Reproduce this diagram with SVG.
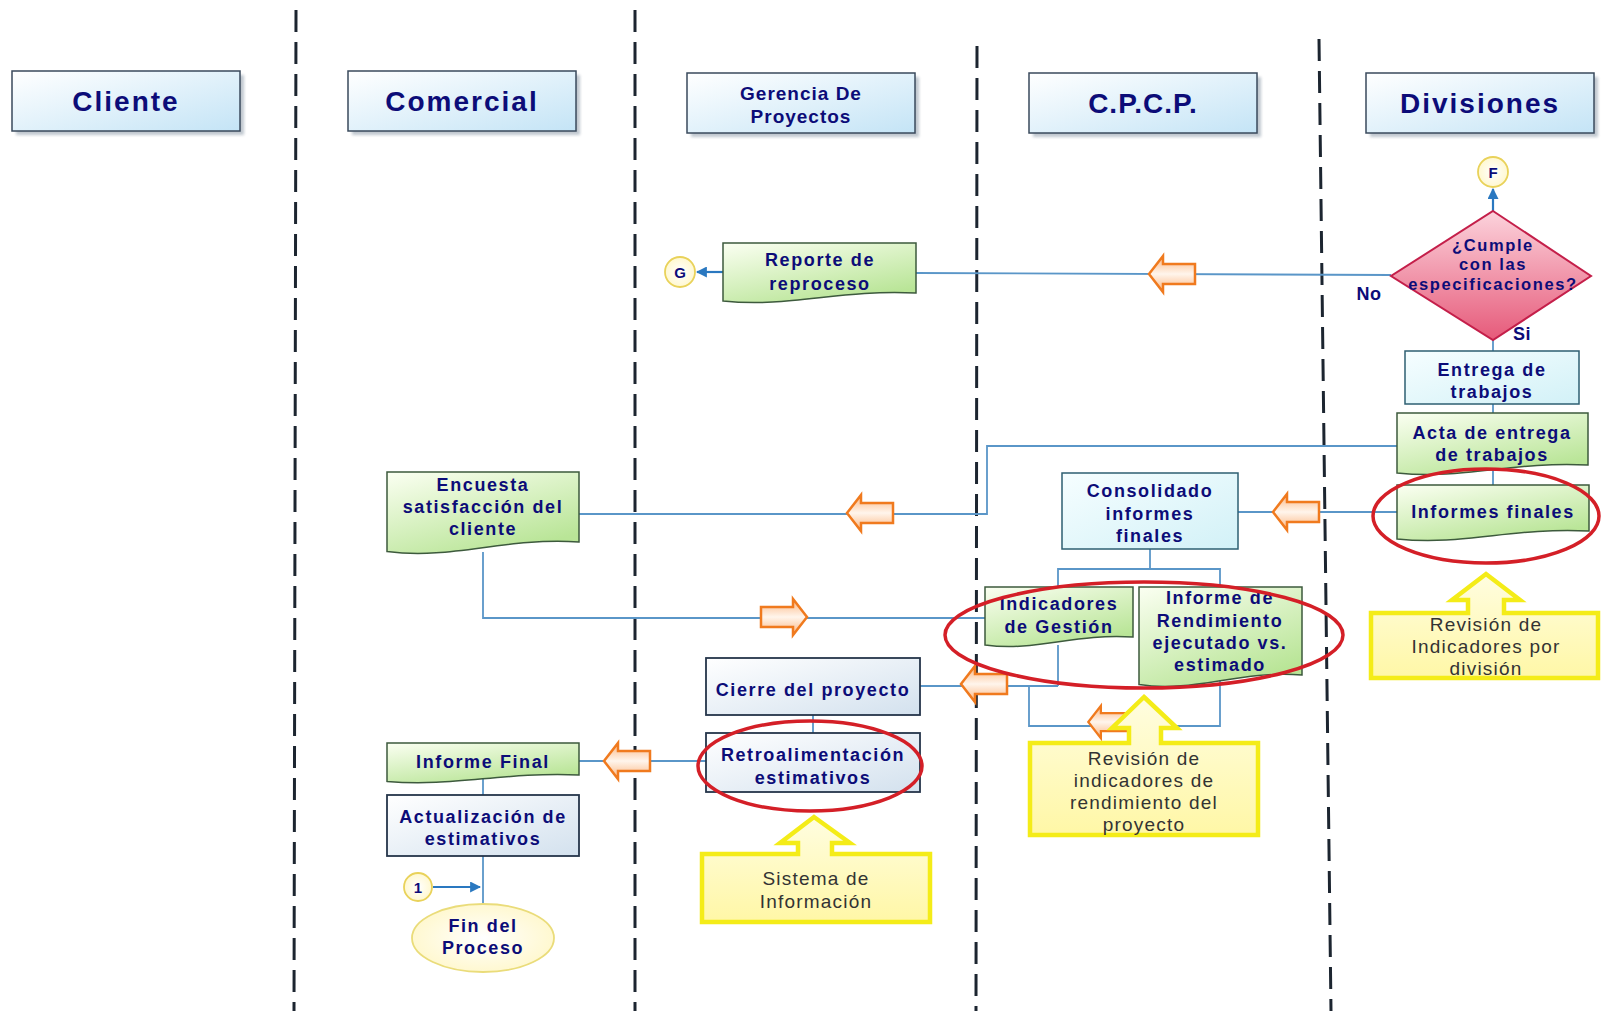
<svg xmlns="http://www.w3.org/2000/svg" width="1601" height="1011" viewBox="0 0 1601 1011">
<style>
  .lane{stroke:#1c2530;stroke-width:3;stroke-dasharray:22 10;fill:none}
  .hdr{fill:url(#hdrG);stroke:#3a4a5c;stroke-width:1.5}
  .shd{fill:#8c9aa8;opacity:.55;filter:url(#blur)}
  .ht{font-family:"Liberation Sans",Arial,sans-serif;font-weight:bold;fill:#0c0c78;font-size:28px;letter-spacing:2px;text-anchor:middle}
  .t{font-family:"Liberation Sans",Arial,sans-serif;font-weight:bold;fill:#0c0c78;font-size:18px;letter-spacing:1.6px;text-anchor:middle}
  .ct{font-family:"Liberation Sans",Arial,sans-serif;fill:#333;font-size:19px;letter-spacing:1.2px;text-anchor:middle}
  .doc{fill:url(#greenG);stroke:#3d5a3d;stroke-width:1.5}
  .cyan{fill:url(#cyanG);stroke:#2e5f72;stroke-width:1.5}
  .box{fill:url(#boxG);stroke:#25354a;stroke-width:1.8}
  .con{stroke:#5a96c8;stroke-width:1.8;fill:none}
  .conA{stroke:#2a78c0;stroke-width:2.2;fill:none;marker-end:url(#ah)}
  .circ{fill:url(#circG);stroke:#e9d25a;stroke-width:1.8}
  .oar{fill:url(#orG);stroke:#f07a1e;stroke-width:2.5;stroke-linejoin:miter}
  .red{fill:none;stroke:#d41f27;stroke-width:3.5}
  .call{fill:url(#yelG);stroke:#f4ec18;stroke-width:4.5;stroke-linejoin:miter}
  .callS{fill:#c8c8b0;opacity:.35;filter:url(#blur2)}
</style>
<defs>
  <linearGradient id="hdrG" x1="0" y1="0" x2="1" y2="1"><stop offset="0" stop-color="#ffffff"/><stop offset="1" stop-color="#c4e4f6"/></linearGradient>
  <linearGradient id="cyanG" x1="0" y1="0" x2="1" y2="1"><stop offset="0" stop-color="#f6feff"/><stop offset="1" stop-color="#d2f1f7"/></linearGradient>
  <linearGradient id="boxG" x1="0" y1="0" x2="1" y2="1"><stop offset="0" stop-color="#ffffff"/><stop offset="1" stop-color="#d3e1ee"/></linearGradient>
  <linearGradient id="greenG" x1="0" y1="0" x2="0.6" y2="1"><stop offset="0" stop-color="#fbfff2"/><stop offset="1" stop-color="#b9e597"/></linearGradient>
  <linearGradient id="pinkG" x1="0" y1="0" x2="0" y2="1"><stop offset="0" stop-color="#fcd3dc"/><stop offset="1" stop-color="#e65a7a"/></linearGradient>
  <linearGradient id="orG" x1="0" y1="0" x2="0" y2="1"><stop offset="0" stop-color="#fbb47e"/><stop offset="0.5" stop-color="#fff5ec"/><stop offset="1" stop-color="#fbb47e"/></linearGradient>
  <linearGradient id="yelG" x1="0" y1="0" x2="0" y2="1"><stop offset="0" stop-color="#fffde0"/><stop offset="1" stop-color="#fff7a6"/></linearGradient>
  <radialGradient id="circG"><stop offset="0" stop-color="#ffffff"/><stop offset="1" stop-color="#fff8d0"/></radialGradient>
  <filter id="blur" x="-10%" y="-10%" width="120%" height="130%"><feGaussianBlur stdDeviation="1.5"/></filter>
  <filter id="blur2" x="-10%" y="-10%" width="120%" height="130%"><feGaussianBlur stdDeviation="4"/></filter>
  <marker id="ah" viewBox="0 0 10 10" refX="9" refY="5" markerWidth="5" markerHeight="5" orient="auto"><path d="M0,0 L10,5 L0,10 z" fill="#2a78c0"/></marker>
  <path id="oarrow" d="M-23,0 L-9,-18 L-9,-10 L23,-10 L23,10 L-9,10 L-9,18 Z"/>
</defs>
<rect width="1601" height="1011" fill="#ffffff"/>

<g id="lanes">
  <line class="lane" x1="296" y1="10" x2="294" y2="1011"/>
  <line class="lane" x1="635" y1="10" x2="635" y2="1011"/>
  <line class="lane" x1="977" y1="46" x2="976" y2="1011"/>
  <line class="lane" x1="1319" y1="39" x2="1331" y2="1011"/>
</g>

<g id="headers">
  <g id="h-cliente"><rect class="shd" x="16" y="75" width="228" height="60"/><rect class="hdr" x="12" y="71" width="228" height="60"/><text class="ht" x="126" y="111">Cliente</text></g>
  <g id="h-comercial"><rect class="shd" x="352" y="75" width="228" height="60"/><rect class="hdr" x="348" y="71" width="228" height="60"/><text class="ht" x="462" y="111">Comercial</text></g>
  <g id="h-gerencia"><rect class="shd" x="691" y="77" width="228" height="60"/><rect class="hdr" x="687" y="73" width="228" height="60"/><text class="t" x="801" y="100" style="font-size:19px;letter-spacing:1px">Gerencia De</text><text class="t" x="801" y="123" style="font-size:19px;letter-spacing:1px">Proyectos</text></g>
  <g id="h-cpcp"><rect class="shd" x="1033" y="77" width="228" height="60"/><rect class="hdr" x="1029" y="73" width="228" height="60"/><text class="ht" x="1143" y="113" style="letter-spacing:1px">C.P.C.P.</text></g>
  <g id="h-divisiones"><rect class="shd" x="1370" y="77" width="228" height="60"/><rect class="hdr" x="1366" y="73" width="228" height="60"/><text class="ht" x="1480" y="113">Divisiones</text></g>
</g>

<g id="connectors">
  <line class="conA" x1="1493" y1="211" x2="1493" y2="189"/>
  <line class="con" x1="1391" y1="275" x2="916" y2="273"/>
  <line class="conA" x1="723" y1="272" x2="697" y2="272"/>
  <line class="con" x1="1493" y1="340" x2="1493" y2="351"/>
  <line class="con" x1="1493" y1="404" x2="1493" y2="413"/>
  <line class="con" x1="1493" y1="470" x2="1493" y2="485"/>
  <polyline class="con" points="1397,446 987,446 987,514 579,514"/>
  <line class="con" x1="1397" y1="512" x2="1238" y2="512"/>
  <line class="con" x1="1150" y1="549" x2="1150" y2="569"/>
  <polyline class="con" points="1058,587 1058,569 1220,569 1220,587"/>
  <polyline class="con" points="483,552 483,618 985,618"/>
  <line class="con" x1="920" y1="686" x2="1058" y2="686"/>
  <line class="con" x1="1058" y1="645" x2="1058" y2="686"/>
  <polyline class="con" points="1029,686 1029,726 1220,726 1220,680"/>
  <line class="con" x1="813" y1="715" x2="813" y2="733"/>
  <line class="con" x1="706" y1="761" x2="579" y2="761"/>
  <line class="con" x1="483" y1="779" x2="483" y2="795"/>
  <line class="con" x1="483" y1="856" x2="483" y2="905"/>
  <line class="conA" x1="433" y1="887" x2="480" y2="887"/>
  <g id="flow-arrows">
    <use href="#oarrow" class="oar" transform="translate(1172,274)"/>
    <use href="#oarrow" class="oar" transform="translate(870,513)"/>
    <use href="#oarrow" class="oar" transform="translate(1296,512)"/>
    <use href="#oarrow" class="oar" transform="translate(784,617) scale(-1,1)"/>
    <use href="#oarrow" class="oar" transform="translate(984,684)"/>
    <use href="#oarrow" class="oar" transform="translate(1109,722) scale(0.9)"/>
    <use href="#oarrow" class="oar" transform="translate(627,761)"/>
  </g>
  <text class="t" x="1369" y="300" style="letter-spacing:0.5px">No</text>
  <text class="t" x="1522" y="340" style="letter-spacing:0.5px">Si</text>
</g>

<g id="node-F"><circle class="circ" cx="1493" cy="172" r="15"/><text class="t" x="1493" y="178" style="font-size:15px;letter-spacing:0">F</text></g>
<g id="node-decision"><polygon points="1493,211 1591,276 1493,340 1391,276" fill="url(#pinkG)" stroke="#c41f4a" stroke-width="2"/>
  <text class="t" x="1493" y="251" style="font-size:16.5px;letter-spacing:1.6px">¿Cumple</text>
  <text class="t" x="1493" y="270" style="font-size:16.5px;letter-spacing:1.6px">con las</text>
  <text class="t" x="1493" y="290" style="font-size:16.5px;letter-spacing:1.6px">especificaciones?</text></g>
<g id="node-G"><circle class="circ" cx="680" cy="272" r="15"/><text class="t" x="680" y="278" style="font-size:15px;letter-spacing:0">G</text></g>
<g id="node-reporte"><path class="doc" d="M723,243 H916 V293 C838.8,289 790.6,308 723,301 Z"/><text class="t" x="820" y="266">Reporte de</text><text class="t" x="820" y="290">reproceso</text></g>
<g id="node-entrega"><rect class="cyan" x="1405" y="351" width="174" height="53"/><text class="t" x="1492" y="376">Entrega de</text><text class="t" x="1492" y="398">trabajos</text></g>
<g id="node-acta"><path class="doc" d="M1397,413 H1588 V465 C1511.6,461 1463.9,480 1397,473 Z"/><text class="t" x="1492" y="439">Acta de entrega</text><text class="t" x="1492" y="461">de trabajos</text></g>
<g id="node-informes-finales"><path class="doc" d="M1397,485 H1589 V531 C1512.2,527 1464.2,546 1397,539 Z"/><text class="t" x="1493" y="518">Informes finales</text></g>
<g id="node-consolidado"><rect class="cyan" x="1062" y="473" width="176" height="76"/><text class="t" x="1150" y="497">Consolidado</text><text class="t" x="1150" y="520">informes</text><text class="t" x="1150" y="542">finales</text></g>
<g id="node-indicadores"><path class="doc" d="M985,587 H1133 V637 C1073.8,633 1036.8,652 985,645 Z"/><text class="t" x="1059" y="610">Indicadores</text><text class="t" x="1059" y="633">de Gestión</text></g>
<g id="node-rendimiento"><path class="doc" d="M1139,587 H1302 V675 C1236.8,670.2 1196.1,693 1139,684.6 Z"/><text class="t" x="1220" y="604">Informe de</text><text class="t" x="1220" y="627">Rendimiento</text><text class="t" x="1220" y="649">ejecutado vs.</text><text class="t" x="1220" y="671">estimado</text></g>
<g id="node-encuesta"><path class="doc" d="M387,472 H579 V542 C502.2,537.2 454.2,560 387,551.6 Z"/><text class="t" x="483" y="491">Encuesta</text><text class="t" x="483" y="513">satisfacción del</text><text class="t" x="483" y="535">cliente</text></g>
<g id="node-cierre"><rect class="box" x="706" y="658" width="214" height="57"/><text class="t" x="813" y="696">Cierre del proyecto</text></g>
<g id="node-retro"><rect class="box" x="706" y="733" width="214" height="59"/><text class="t" x="813" y="761">Retroalimentación</text><text class="t" x="813" y="784">estimativos</text></g>
<g id="node-informe-final"><path class="doc" d="M387,743 H579 V775 C502.2,771.8 454.2,787 387,781.4 Z"/><text class="t" x="483" y="768">Informe Final</text></g>
<g id="node-actualizacion"><rect class="box" x="387" y="795" width="192" height="61"/><text class="t" x="483" y="823">Actualización de</text><text class="t" x="483" y="845">estimativos</text></g>
<g id="node-1"><circle class="circ" cx="418" cy="887" r="14"/><text class="t" x="418" y="893" style="font-size:15px;letter-spacing:0">1</text></g>
<g id="node-fin"><ellipse cx="483" cy="938" rx="71" ry="34" fill="url(#circG)" stroke="#eadc7a" stroke-width="1.8"/><text class="t" x="483" y="932">Fin del</text><text class="t" x="483" y="954">Proceso</text></g>

<g id="highlights">
  <ellipse class="red" cx="1486" cy="516" rx="113" ry="47"/>
  <ellipse class="red" cx="1144" cy="635" rx="199" ry="53"/>
  <ellipse class="red" cx="810" cy="766" rx="112" ry="45"/>
</g>

<g id="callouts">
  <g id="callout-division">
    <path class="call" d="M1486,574 L1520,600 L1504,600 L1504,613 L1598,613 L1598,678 L1371,678 L1371,613 L1468,613 L1468,600 L1452,600 Z"/>
    <text class="ct" x="1486" y="631">Revisión de</text><text class="ct" x="1486" y="653">Indicadores por</text><text class="ct" x="1486" y="675">división</text>
  </g>
  <g id="callout-rendimiento">
    <path class="call" d="M1144,697 L1177,728 L1161,728 L1161,743 L1258,743 L1258,835 L1030,835 L1030,743 L1129,743 L1129,728 L1112,728 Z"/>
    <text class="ct" x="1144" y="765">Revisión de</text><text class="ct" x="1144" y="787">indicadores de</text><text class="ct" x="1144" y="809">rendimiento del</text><text class="ct" x="1144" y="831">proyecto</text>
  </g>
  <g id="callout-sistema">
    <path class="call" d="M814,817 L850,843 L832,843 L832,854 L930,854 L930,922 L702,922 L702,854 L798,854 L798,843 L780,843 Z"/>
    <text class="ct" x="816" y="885">Sistema de</text><text class="ct" x="816" y="908">Información</text>
  </g>
</g>
</svg>
